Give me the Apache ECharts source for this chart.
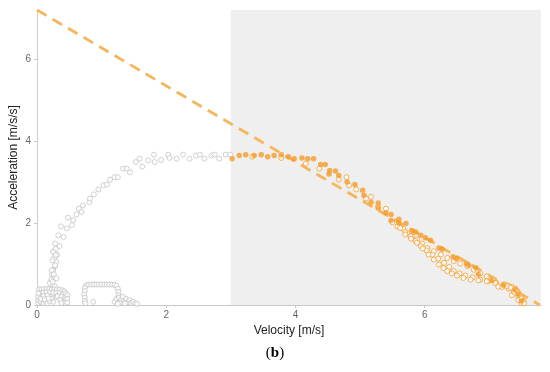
<!DOCTYPE html>
<html>
<head>
<meta charset="utf-8">
<script src="https://cdn.jsdelivr.net/npm/echarts@6/dist/echarts.min.js"></script>
<style>html,body{margin:0;padding:0;background:#fff}#c{width:550px;height:372px}</style>
</head>
<body>
<div id="c"></div>
<script>
// ---- data (velocity [m/s], acceleration [m/s/s]) ----
var xTicks = [0, 2, 4, 6];
var yTicks = [0, 2, 4, 6];
var xMax = 7.8;
var yMax = 7.2;
var shadeStartV = 3;

var grayArc = [
  [0.20,0.54],[0.23,0.75],[0.22,0.62],[0.25,0.85],[0.28,0.95],[0.30,1.05],[0.27,1.15],[0.31,1.22],
  [0.25,1.30],[0.29,1.37],[0.28,1.50],[0.35,1.44],[0.33,1.70],[0.41,1.66],[0.37,1.92],[0.46,1.87],
  [0.48,2.13],[0.54,1.95],[0.56,2.07],[0.61,2.21],[0.65,2.35],[0.69,2.27],[0.71,2.43],[0.81,2.51],
  [0.82,2.60],[0.88,2.70],[0.95,2.82],[1.03,2.92],[1.08,2.94],[1.13,3.06],[1.20,3.12],[1.25,3.12],
  [1.33,3.33],[1.39,3.33],[1.44,3.24],[1.53,3.49],[1.59,3.57],[1.63,3.38],[1.72,3.53],[1.81,3.67],
  [1.82,3.49],[1.92,3.54],[2.03,3.67],[2.05,3.59],[2.16,3.57],[2.26,3.67],[2.36,3.57],[2.46,3.65],
  [2.52,3.67],[2.59,3.57],[2.70,3.65],[2.75,3.67],[2.82,3.57],[2.92,3.67],[2.99,3.67]
];
var grayColumn = [
  [0.25,1.30],[0.29,1.22],[0.24,1.09],[0.28,0.97],[0.23,0.85],[0.26,0.75],[0.30,0.65],[0.24,0.57],
  [0.28,0.45],[0.23,0.32],[0.30,0.20],[0.25,0.08],[0.21,0.40],[0.27,0.28],[0.22,0.15]
];
var grayBox1 = [
  [0.03,0.38],[0.07,0.38],[0.11,0.39],[0.15,0.39],[0.19,0.39],[0.23,0.38],[0.27,0.38],[0.31,0.38],[0.35,0.37],[0.39,0.36],[0.42,0.33],
  [0.05,0.30],[0.10,0.30],[0.15,0.31],[0.20,0.31],[0.25,0.30],[0.30,0.30],[0.35,0.29],[0.40,0.27],
  [0.04,0.22],[0.10,0.22],[0.16,0.23],[0.32,0.22],[0.38,0.21],
  [0.02,0.05],[0.02,0.12],[0.02,0.20],[0.02,0.28],[0.06,0.08],[0.06,0.15],
  [0.44,0.28],[0.44,0.20],[0.44,0.12],[0.44,0.05],[0.47,0.24],[0.47,0.15],[0.47,0.06],
  [0.10,0.05],[0.13,0.09],[0.16,0.04],[0.19,0.10],[0.12,0.14],[0.18,0.16],[0.36,0.12],[0.38,0.05]
];
var grayBox2 = [
  [0.76,0.48],[0.80,0.50],[0.84,0.50],[0.88,0.50],[0.92,0.50],[0.96,0.50],[1.00,0.50],[1.04,0.50],
  [1.08,0.50],[1.12,0.50],[1.16,0.50],[1.20,0.49],[1.23,0.47],
  [0.74,0.42],[0.74,0.34],[0.73,0.26],[0.74,0.18],[0.74,0.10],[0.75,0.04],
  [1.25,0.40],[1.26,0.32],[1.26,0.24],[1.25,0.16],[0.87,0.08]
];
var grayCluster3 = [
  [1.20,0.08],[1.23,0.15],[1.27,0.18],[1.30,0.12],[1.33,0.20],[1.35,0.10],[1.38,0.15],[1.40,0.06],
  [1.43,0.12],[1.46,0.05],[1.49,0.08],[1.52,0.04],[1.55,0.03],[1.28,0.05],[1.25,0.03],[1.36,0.04]
];
var orangeFilled = [
  [3.02,3.57],[3.13,3.65],[3.23,3.67],[3.36,3.65],[3.47,3.67],[3.57,3.62],[3.67,3.65],[3.78,3.67],
  [3.89,3.62],[3.98,3.57],[4.10,3.59],[4.19,3.57],[4.28,3.57],[4.39,3.43],[4.46,3.43],[4.53,3.28],
  [4.52,3.20],[4.62,3.27],[4.67,3.16],[4.80,3.00],[4.92,2.94],[5.04,2.80],[5.06,2.68],[5.17,2.51],
  [5.28,2.49],[5.28,2.37],[5.40,2.25],[5.48,2.21],[5.48,2.06],[5.60,2.09],[5.60,2.00],[5.71,1.99],
  [5.81,1.81],[5.86,1.78],[5.94,1.70],[6.01,1.64],[6.09,1.58],[6.22,1.39],[6.27,1.36],[6.44,1.18],
  [6.49,1.13],[6.65,1.01],[6.68,0.97],[6.79,0.91],[6.83,0.75],[7.04,0.60],[7.22,0.48],[7.40,0.38],
  [7.45,0.26],[7.50,0.10]
];
var orangeHollow = [
  [3.33,3.62],[3.78,3.59],[4.16,3.45],[4.37,3.33],[4.67,3.06],[4.79,3.12],[4.83,2.92],[4.94,2.82],
  [5.09,2.60],[5.17,2.64],[5.28,2.40],[5.40,2.35],
  [5.50,2.02],[5.58,1.92],[5.67,1.86],[5.73,1.76],[5.80,1.68],[5.88,1.60],[5.96,1.50],[6.04,1.39],
  [6.14,1.31],[6.25,1.23],[6.35,1.15],[6.45,1.07],[6.55,1.01],[6.66,0.95],[6.76,0.86],[6.86,0.77],
  [6.96,0.70],[7.06,0.62],
  [5.62,1.88],[5.70,1.78],[5.78,1.68],[5.86,1.56],[5.94,1.44],[6.03,1.33],[6.12,1.23],[6.21,1.13],
  [6.30,1.03],[6.38,0.93],[6.45,0.83],[6.54,0.77],[6.63,0.72],[6.74,0.67],[6.86,0.62],[6.98,0.58],
  [7.11,0.54],[7.22,0.50],
  [5.70,1.72],[5.79,1.62],[5.88,1.52],[5.97,1.38],[6.06,1.23],[6.14,1.11],[6.22,0.99],[6.29,0.90],
  [6.35,0.83],[6.42,0.77],[6.50,0.72],[6.60,0.66],[6.71,0.62],[6.83,0.60],[6.96,0.58],[7.09,0.54],
  [7.14,0.45],[7.20,0.44],[7.25,0.50],[7.30,0.47],[7.30,0.40],[7.35,0.44],[7.35,0.24],[7.38,0.32],
  [7.40,0.40],[7.40,0.30],[7.43,0.34],[7.45,0.20],[7.45,0.12],[7.46,0.28],[7.48,0.22],[7.50,0.16],
  [7.50,0.05],[7.52,0.10],[7.53,0.08],[7.54,0.04],[7.27,0.46],[7.33,0.42],[7.42,0.36]
];
var fitLine = [[0, 7.2], [7.78, 0]];

var gray = '#c4c4c4';
var orange = '#f59c2a';

function hollow(name, data, color, size) {
  return {
    name: name, type: 'scatter', data: data, symbol: 'circle', symbolSize: size,
    itemStyle: { color: '#ffffff', borderColor: color, borderWidth: 1 },
    z: 3, silent: true
  };
}

var chart = echarts.init(document.getElementById('c'), null, { renderer: 'canvas' });
chart.setOption({
  animation: false,
  backgroundColor: '#ffffff',
  textStyle: { fontFamily: 'Liberation Sans, Arial, sans-serif' },
  grid: { left: 37, right: 9, top: 10, bottom: 67, containLabel: false, outerBoundsMode: 'none' },
  xAxis: {
    type: 'value', min: 0, max: xMax, interval: 2,
    name: 'Velocity [m/s]', nameLocation: 'middle', nameGap: 20, nameMoveOverlap: false,
    nameTextStyle: { color: '#222', fontSize: 12 },
    axisLine: { show: true, lineStyle: { color: '#c8c8c8', width: 1 } },
    axisTick: { show: true, length: 3, customValues: xTicks, lineStyle: { color: '#c8c8c8' } },
    axisLabel: { color: '#666', fontSize: 10, margin: 5, customValues: xTicks },
    splitLine: { show: false }
  },
  yAxis: {
    type: 'value', min: 0, max: yMax, interval: 2,
    name: 'Acceleration [m/s/s]', nameLocation: 'middle', nameGap: 17, nameMoveOverlap: false,
    nameTextStyle: { color: '#222', fontSize: 12 },
    axisLine: { show: true, lineStyle: { color: '#d0d0d0', width: 1 } },
    axisTick: { show: true, length: 3, customValues: yTicks, lineStyle: { color: '#c8c8c8' } },
    axisLabel: { color: '#666', fontSize: 10, margin: 6, customValues: yTicks },
    splitLine: { show: false }
  },
  graphic: [{
    type: 'text', left: 'center', top: 346,
    style: {
      text: '({b|b})', fill: '#000', font: '15px "Liberation Serif", serif',
      rich: { b: { fontWeight: 'bold', fontSize: 15, fontFamily: 'Liberation Serif', fill: '#000' } }
    }
  }],
  series: [
    {
      type: 'scatter', data: [], silent: true, z: 1,
      markArea: {
        silent: true,
        itemStyle: { color: '#efefef' },
        data: [[{ xAxis: shadeStartV, yAxis: 0 }, { xAxis: xMax, yAxis: yMax }]]
      }
    },
    hollow('grayArc', grayArc, gray, 5),
    hollow('grayColumn', grayColumn, gray, 5),
    hollow('grayBox1', grayBox1, gray, 5),
    hollow('grayBox2', grayBox2, gray, 5),
    hollow('grayCluster3', grayCluster3, gray, 5),
    {
      type: 'line', data: fitLine, symbol: 'none', z: 2, silent: true,
      lineStyle: { color: '#f6b55c', width: 2.8, type: [11, 7] }
    },
    hollow('orangeHollow', orangeHollow, orange, 5),
    {
      type: 'scatter', data: orangeFilled, symbol: 'circle', symbolSize: 5.5, z: 4, silent: true,
      itemStyle: { color: orange }
    }
  ]
});
</script>
</body>
</html>
